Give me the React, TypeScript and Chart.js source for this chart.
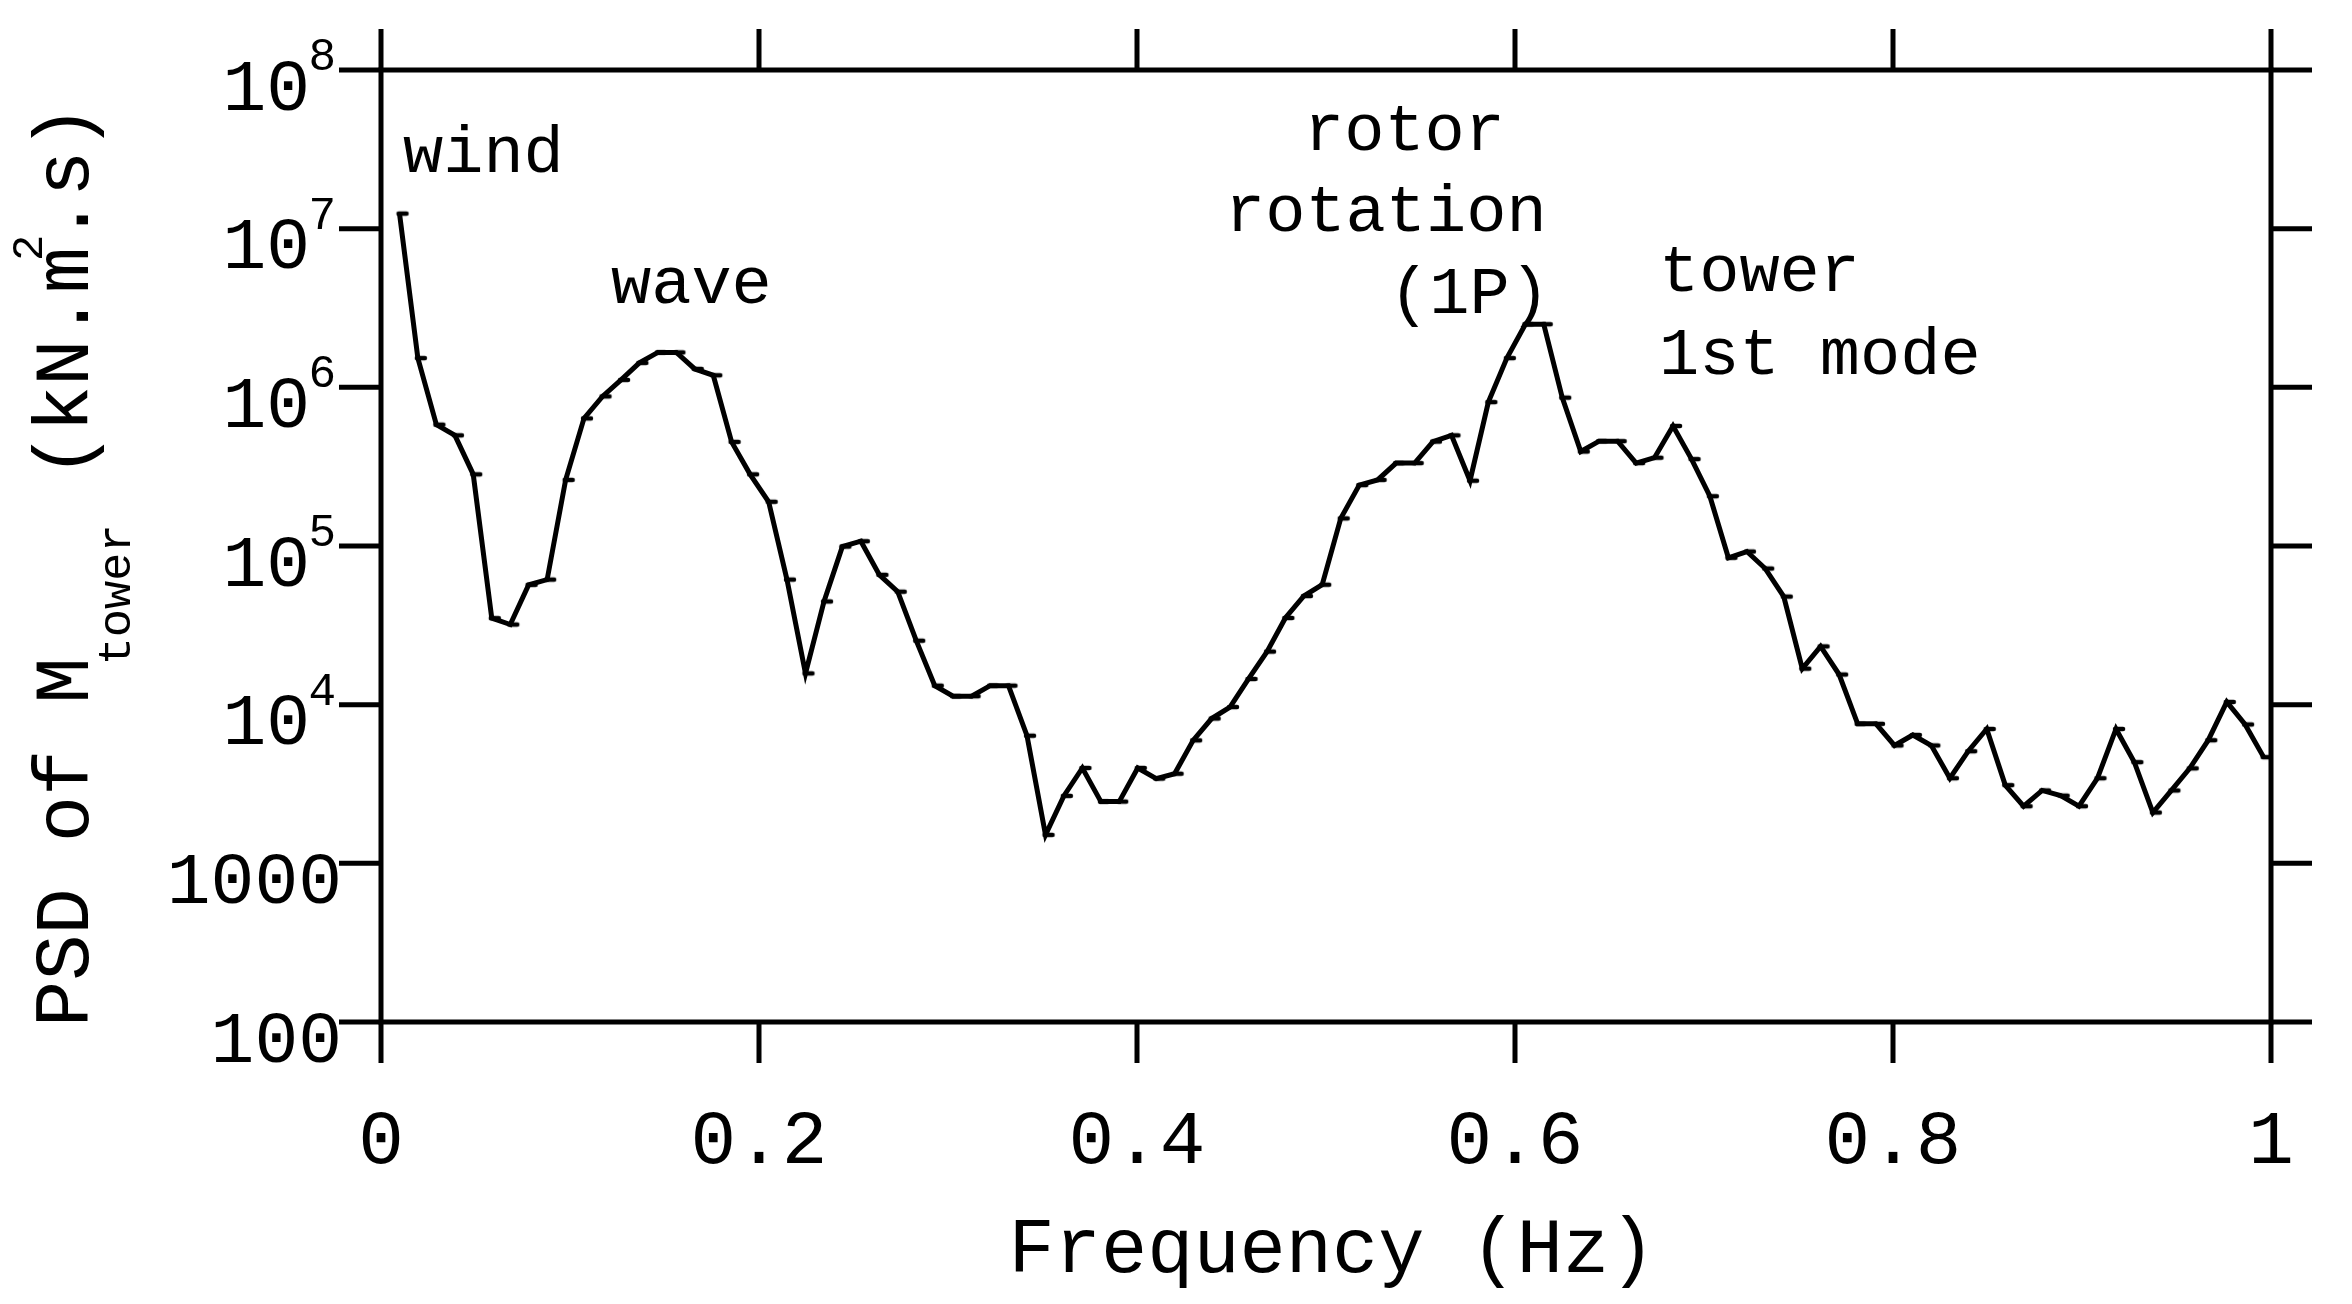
import { useEffect, useRef } from "react";
import { Chart, registerables } from "chart.js";

Chart.register(...registerables);

// Frequency grid (Hz)
const FREQUENCY_HZ = [
  0.0098, 0.0195, 0.0293, 0.0391, 0.0488, 0.0586, 0.0684, 0.0781, 0.0879, 0.0977,
  0.1074, 0.1172, 0.127, 0.1367, 0.1465, 0.1563, 0.166, 0.1758, 0.1855, 0.1953,
  0.2051, 0.2148, 0.2246, 0.2344, 0.2441, 0.2539, 0.2637, 0.2734, 0.2832, 0.293,
  0.3027, 0.3125, 0.3223, 0.332, 0.3418, 0.3516, 0.3613, 0.3711, 0.3809, 0.3906,
  0.4004, 0.4102, 0.4199, 0.4297, 0.4395, 0.4492, 0.459, 0.4688, 0.4785, 0.4883,
  0.498, 0.5078, 0.5176, 0.5273, 0.5371, 0.5469, 0.5566, 0.5664, 0.5762, 0.5859,
  0.5957, 0.6055, 0.6152, 0.625, 0.6348, 0.6445, 0.6543, 0.6641, 0.6738, 0.6836,
  0.6934, 0.7031, 0.7129, 0.7227, 0.7324, 0.7422, 0.752, 0.7617, 0.7715, 0.7813,
  0.791, 0.8008, 0.8105, 0.8203, 0.8301, 0.8398, 0.8496, 0.8594, 0.8691, 0.8789,
  0.8887, 0.8984, 0.9082, 0.918, 0.9277, 0.9375, 0.9473, 0.957, 0.9668, 0.9766,
  0.9863, 0.9961,
];

// PSD of M_tower (kN.m^2.s)
const PSD_M_TOWER = [
  12450000, 1528000, 582000, 498000, 283000, 35100, 32000, 56900, 61400, 261000,
  637000, 877000, 1114000, 1426000, 1660000, 1660000, 1306000, 1191000, 453000, 283000,
  190000, 61400, 15740, 44700, 99100, 107200, 65800, 51500, 25300, 13180,
  11300, 11300, 13180, 13180, 6370, 1510, 2660, 3990, 2450, 2450,
  3990, 3420, 3670, 5960, 8180, 9660, 14520, 21600, 35200, 48400,
  57000, 149300, 242000, 261000, 333000, 333000, 455000, 498000, 258000, 807000,
  1528000, 2500000, 2500000, 861000, 394000, 458000, 458000, 333000, 360000, 571000,
  353000, 206000, 84300, 92300, 72100, 48000, 16870, 23300, 15490, 7570,
  7570, 5530, 6440, 5530, 3440, 5090, 7030, 3110, 2290, 2880,
  2670, 2290, 3440, 7030, 4340, 2090, 2880, 3970, 5970, 10400,
  7500, 4670,
];

const X_TICKS = [0, 0.2, 0.4, 0.6, 0.8, 1];
const X_TICK_LABELS = ["0", "0.2", "0.4", "0.6", "0.8", "1"];
const Y_TICKS = [100, 1000, 1e4, 1e5, 1e6, 1e7, 1e8];
// [base, exponent]
const Y_TICK_LABELS: [string, string][] = [
  ["100", ""],
  ["1000", ""],
  ["10", "4"],
  ["10", "5"],
  ["10", "6"],
  ["10", "7"],
  ["10", "8"],
];
const X_TITLE = "Frequency (Hz)";
const Y_TITLE_PARTS = ["PSD of M", "tower", " (kN.m", "2", ".s)"];
const ANNOTATION_TEXTS = ["wind", "wave", "rotor", "rotation", "(1P)", "tower", "1st mode"];

const FONT = '"Liberation Mono", "DejaVu Sans Mono", monospace';
const f = (px: number) => `${px}px ${FONT}`;

function makeMarker(): HTMLCanvasElement {
  // short horizontal dash sitting just right of the data vertex
  const c = document.createElement("canvas");
  c.width = 24;
  c.height = 10;
  const g = c.getContext("2d")!;
  g.strokeStyle = "#000";
  g.lineWidth = 4.5;
  g.lineCap = "round";
  g.beginPath();
  g.moveTo(11, 5);
  g.lineTo(19, 5);
  g.stroke();
  return c;
}

const framePlugin = {
  id: "psdFrame",
  beforeDraw(chart: any) {
    const { ctx, width, height } = chart;
    ctx.save();
    ctx.fillStyle = "#ffffff";
    ctx.fillRect(0, 0, width, height);
    ctx.restore();
  },
  afterDatasetsDraw(chart: any) {
    const { ctx, chartArea: a } = chart;
    const xs = chart.scales.x;
    const ys = chart.scales.y;
    ctx.save();
    ctx.strokeStyle = "#000";
    ctx.fillStyle = "#000";
    ctx.lineWidth = 5;
    ctx.lineCap = "butt";

    // frame
    ctx.beginPath();
    ctx.rect(a.left, a.top, a.right - a.left, a.bottom - a.top);
    ctx.stroke();

    // outward ticks on all sides
    const T = 41;
    ctx.beginPath();
    X_TICKS.forEach((v) => {
      const px = xs.getPixelForValue(v);
      ctx.moveTo(px, a.top - T);
      ctx.lineTo(px, a.top);
      ctx.moveTo(px, a.bottom);
      ctx.lineTo(px, a.bottom + T);
    });
    Y_TICKS.forEach((v) => {
      const py = ys.getPixelForValue(v);
      ctx.moveTo(a.left - T - 1, py);
      ctx.lineTo(a.left, py);
      ctx.moveTo(a.right, py);
      ctx.lineTo(a.right + T, py);
    });
    ctx.stroke();

    // x tick labels
    ctx.textAlign = "center";
    ctx.textBaseline = "alphabetic";
    ctx.font = f(76);
    X_TICKS.forEach((v, i) => {
      ctx.fillText(X_TICK_LABELS[i], xs.getPixelForValue(v), a.bottom + 141);
    });

    // y tick labels
    ctx.textAlign = "right";
    Y_TICKS.forEach((v, i) => {
      const py = ys.getPixelForValue(v);
      const [base, exp] = Y_TICK_LABELS[i];
      if (exp) {
        ctx.font = f(73);
        ctx.fillText(base, a.left - 71, py + 39.5);
        ctx.font = f(46);
        ctx.fillText(exp, a.left - 45, py);
      } else {
        ctx.font = f(73);
        ctx.fillText(base, a.left - 39, py + 39.5);
      }
    });

    // x title
    ctx.textAlign = "center";
    ctx.font = f(77);
    ctx.fillText(X_TITLE, a.left + 951, a.bottom + 250);

    // y title (rotated)
    ctx.save();
    ctx.translate(a.left - 293, a.bottom + 5);
    ctx.rotate(-Math.PI / 2);
    ctx.textAlign = "left";
    let cx = 0;
    ctx.font = f(77);
    ctx.fillText(Y_TITLE_PARTS[0], cx, 0);
    cx += ctx.measureText(Y_TITLE_PARTS[0]).width - 8;
    ctx.font = f(47);
    ctx.fillText(Y_TITLE_PARTS[1], cx, 42);
    cx += ctx.measureText(Y_TITLE_PARTS[1]).width;
    ctx.font = f(77);
    ctx.fillText(Y_TITLE_PARTS[2], cx, 0);
    cx += ctx.measureText(Y_TITLE_PARTS[2]).width;
    ctx.font = f(44);
    ctx.fillText(Y_TITLE_PARTS[3], cx - 14, -46);
    ctx.font = f(77);
    ctx.fillText(Y_TITLE_PARTS[4], cx + 4, 0);
    ctx.restore();

    // annotations
    ctx.textAlign = "left";
    ctx.font = f(67);
    const pos: [number, number][] = [
      [403, 172],
      [611, 303],
      [1304, 150],
      [1225, 231],
      [1389, 313],
      [1659, 291],
      [1659, 374],
    ];
    ANNOTATION_TEXTS.forEach((t, i) => {
      ctx.fillText(t, pos[i][0], pos[i][1]);
    });

    ctx.restore();
  },
};

export default function App() {
  const ref = useRef<HTMLCanvasElement>(null);

  useEffect(() => {
    if (!ref.current) return;
    const marker = makeMarker();
    const chart = new Chart(ref.current, {
      type: "line",
      data: {
        datasets: [
          {
            data: FREQUENCY_HZ.map((fq, i) => ({ x: fq, y: PSD_M_TOWER[i] })),
            borderColor: "#000",
            borderWidth: 5,
            tension: 0,
            pointStyle: marker,
            pointRadius: 5,
            pointBorderColor: "#000",
            pointBackgroundColor: "#000",
          },
        ],
      },
      options: {
        animation: false,
        responsive: false,
        devicePixelRatio: 1,
        layout: { padding: { left: 381, right: 81, top: 70, bottom: 282 } },
        scales: {
          x: { type: "linear", min: 0, max: 1, display: false },
          y: { type: "logarithmic", min: 100, max: 1e8, display: false },
        },
        plugins: {
          legend: { display: false },
          tooltip: { enabled: false },
        },
        events: [],
      },
      plugins: [framePlugin],
    } as any);
    return () => chart.destroy();
  }, []);

  return (
    <div
      style={{
        position: "fixed",
        left: 0,
        top: 0,
        width: 2352,
        height: 1304,
        background: "#fff",
      }}
    >
      <canvas
        ref={ref}
        width={2352}
        height={1304}
        style={{ width: 2352, height: 1304, display: "block" }}
      />
    </div>
  );
}
